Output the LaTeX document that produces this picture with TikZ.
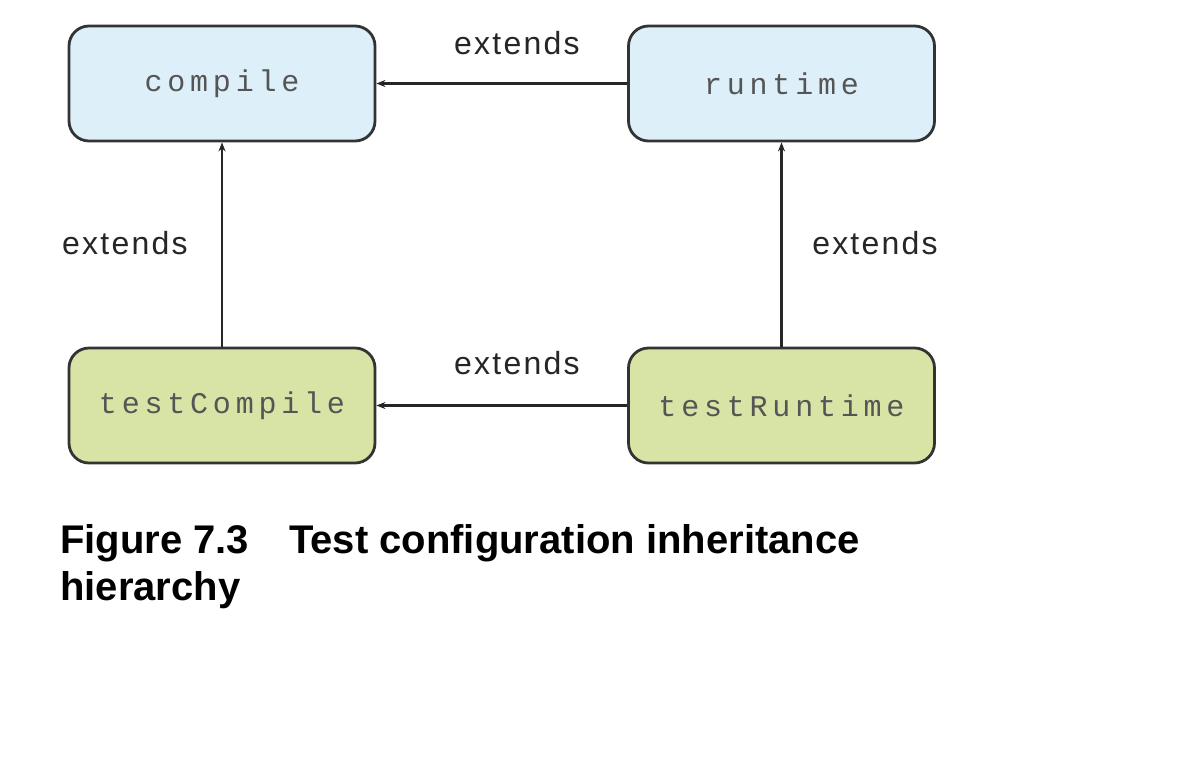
\documentclass[tikz,border=0pt]{standalone}
\usepackage{fontspec}
\setmainfont{Liberation Sans}
\newfontfamily\monof{Liberation Mono}[LetterSpace=16]
\newfontfamily\labf{Liberation Sans}[LetterSpace=7]
\newfontfamily\capf{Liberation Sans}[BoldFont={Liberation Sans Bold}]
\usetikzlibrary{arrows.meta}
\definecolor{blueF}{HTML}{DDEFF9}
\definecolor{greenF}{HTML}{D8E3A6}
\definecolor{boxD}{HTML}{333333}
\definecolor{txtG}{HTML}{555555}
\tikzset{
  cfg/.style={draw=boxD, line width=2.8pt, rounded corners=20pt, minimum width=306pt, minimum height=115pt, inner sep=0pt, font=\monof\fontsize{30}{34}\selectfont, text=txtG},
  blue/.style={cfg, fill=blueF},
  green/.style={cfg, fill=greenF},
  ext/.style={-{Stealth[length=9pt,width=7pt]}, line width=2.5pt, draw=black!85},
  lab/.style={font=\labf\fontsize{32}{36}\selectfont, text=black!85, inner sep=0pt}
}
\begin{document}
\begin{tikzpicture}[x=1pt,y=-1pt]
\useasboundingbox (0,0) rectangle (1204,756);
\node[blue] (compile) at (222,83.5) {compile};
\node[blue] (runtime) at (781.5,83.5) {runtime};
\node[green] (tcomp) at (222,405.5) {testCompile};
\node[green] (trun) at (781.5,405.5) {testRuntime};
\draw[ext] (runtime.west) -- (compile.east);
\draw[ext] (trun.west) -- (tcomp.east);
\draw[ext] (tcomp.north) -- (compile.south);
\draw[ext] (trun.north) -- (runtime.south);
\node[lab] (l1) at (517,43) {extends};
\node[lab] (l2) at (517,363) {extends};
\node[lab] (l3) at (125,243) {extends};
\node[lab] (l4) at (875,243) {extends};
\node[anchor=base west, inner sep=0pt, align=left, font=\capf\bfseries\fontsize{40}{47}\selectfont] (cap) at (60,600) {Figure 7.3\hspace{40pt}Test configuration inheritance\\hierarchy};
\end{tikzpicture}
\end{document}
